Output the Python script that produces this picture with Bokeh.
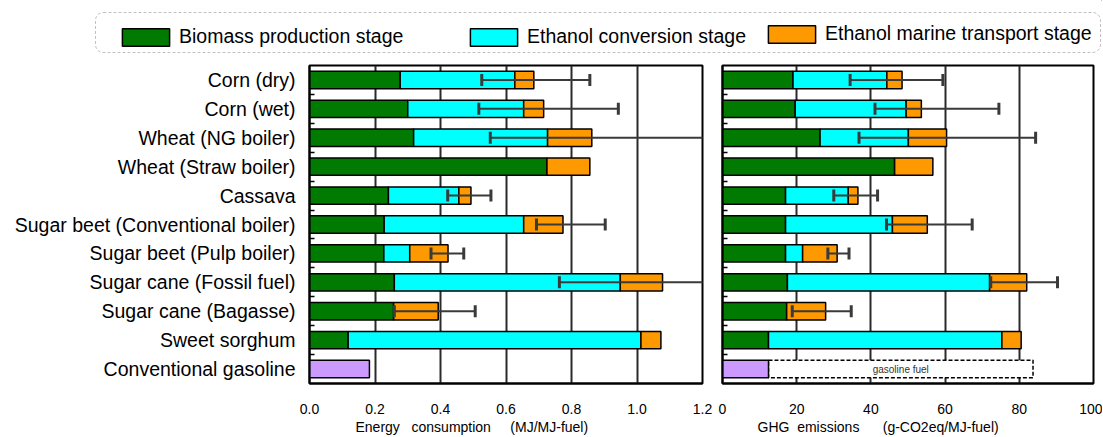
from bokeh.plotting import figure
from bokeh.models import (ColumnDataSource, Range1d, FixedTicker, Whisker, TeeHead,
                          Legend, LegendItem, BoxAnnotation, Title, NumeralTickFormatter)
from bokeh.layouts import column, row
from bokeh.embed import file_html
from bokeh.resources import INLINE
from bokeh.core.properties import value

# ---------------- data ----------------
categories = ["Corn (dry)", "Corn (wet)", "Wheat (NG boiler)", "Wheat (Straw boiler)", "Cassava",
              "Sugar beet (Conventional boiler)", "Sugar beet (Pulp boiler)",
              "Sugar cane (Fossil fuel)", "Sugar cane (Bagasse)", "Sweet sorghum",
              "Conventional gasoline"]
stages = ["Biomass production stage", "Ethanol conversion stage", "Ethanol marine transport stage"]

# Energy consumption (MJ/MJ-fuel) for the ten ethanol pathways
energy_biomass = [0.277, 0.300, 0.318, 0.725, 0.241, 0.228, 0.227, 0.259, 0.257, 0.118]
energy_conversion = [0.350, 0.354, 0.409, 0.0, 0.215, 0.426, 0.079, 0.690, 0.0, 0.894]
energy_transport = [0.058, 0.061, 0.135, 0.131, 0.037, 0.120, 0.117, 0.129, 0.136, 0.061]
energy_err_low = [0.526, 0.517, 0.552, None, 0.422, 0.693, 0.371, 0.763, 0.259, None]
energy_err_high = [0.856, 0.943, 1.214, None, 0.554, 0.903, 0.471, 1.253, 0.506, None]
energy_gasoline = 0.183

# GHG emissions (g-CO2eq/MJ-fuel)
ghg_biomass = [19.0, 19.6, 26.3, 46.4, 17.0, 17.0, 17.0, 17.5, 17.3, 12.4]
ghg_conversion = [25.3, 29.9, 23.8, 0.0, 16.9, 28.8, 4.6, 54.5, 0.0, 62.9]
ghg_transport = [4.1, 4.1, 10.3, 10.3, 2.6, 9.4, 9.3, 10.0, 10.5, 5.2]
ghg_err_low = [34.4, 41.1, 36.8, None, 30.0, 44.2, 28.4, 72.3, 18.8, None]
ghg_err_high = [59.4, 74.5, 84.4, None, 41.8, 67.3, 34.1, 90.3, 34.7, None]
ghg_gasoline = 12.4
ghg_gasoline_fuel = 71.3
gasoline_fuel_label = "gasoline fuel"

energy_ticks = [0.0, 0.2, 0.4, 0.6, 0.8, 1.0, 1.2]
ghg_ticks = [0, 20, 40, 60, 80, 100]
energy_title = "Energy\u00a0\u00a0 consumption\u00a0\u00a0\u00a0\u00a0 (MJ/MJ-fuel)"
ghg_title = "GHG\u00a0 emissions\u00a0\u00a0\u00a0\u00a0\u00a0 (g-CO2eq/MJ-fuel)"

# ---------------- style ----------------
FONT = "Liberation Sans"
GREEN, CYAN, ORANGE, PURPLE = "#007A00", "#00FFFF", "#FF9900", "#CC99FF"
STAGE_COLORS = [GREEN, CYAN, ORANGE]
NCAT = len(categories)
BAR_H = 0.6
ERR_COLOR = "#3a3a3a"


def ypos(i):
    return NCAT - 1 - i


def make_panel(width, bl, br, xmax, ticks, fmt, bio, conv, trans, lo, hi, gas,
               show_labels, title, title_offset):
    p = figure(width=width, height=379, x_range=Range1d(0, xmax),
               y_range=Range1d(-0.5, NCAT - 0.5), output_backend="svg",
               toolbar_location=None, min_border_left=bl, min_border_right=br,
               min_border_top=7, min_border_bottom=54)
    n = len(bio)
    src = ColumnDataSource(dict(y=[ypos(i) for i in range(n)], bio=bio, conv=conv, trans=trans))
    p.hbar_stack(["bio", "conv", "trans"], y="y", height=BAR_H, fill_color=STAGE_COLORS,
                 line_color="black", line_width=1.5, source=src)

    gy = ypos(categories.index("Conventional gasoline"))
    p.hbar(y=[gy], left=[0], right=[gas], height=BAR_H, fill_color=PURPLE,
           line_color="black", line_width=1.5)

    idx = [i for i in range(n) if lo[i] is not None]
    esrc = ColumnDataSource(dict(y=[ypos(i) for i in idx], lo=[lo[i] for i in idx],
                                 hi=[hi[i] for i in idx]))
    w = Whisker(base="y", lower="lo", upper="hi", source=esrc, dimension="width",
                line_color=ERR_COLOR, line_width=2,
                lower_head=TeeHead(size=12, line_color=ERR_COLOR, line_width=3),
                upper_head=TeeHead(size=12, line_color=ERR_COLOR, line_width=3))
    w.level = "overlay"
    p.add_layout(w)

    ax = p.xaxis[0]
    ax.ticker = FixedTicker(ticks=ticks)
    if fmt is not None:
        ax.formatter = fmt
    ax.major_tick_in = 0
    ax.major_tick_out = 0
    ax.minor_tick_in = 0
    ax.minor_tick_out = 0
    ax.major_label_standoff = 20
    ax.major_label_text_font = FONT
    ax.major_label_text_font_size = "14px"
    ax.major_label_text_color = "black"
    ax.axis_line_width = 2
    ax.axis_line_color = "black"

    ay = p.yaxis[0]
    minor = [i + 0.5 for i in range(NCAT - 1)]
    if show_labels:
        ay.ticker = FixedTicker(ticks=list(range(NCAT)), minor_ticks=minor)
        ay.major_label_overrides = {ypos(i): c for i, c in enumerate(categories)}
        ay.major_label_text_font = FONT
        ay.major_label_text_font_size = "19.5px"
        ay.major_label_text_color = "black"
        ay.major_label_standoff = 14
    else:
        ay.ticker = FixedTicker(ticks=[], minor_ticks=minor)
        ay.major_label_standoff = 0
    ay.major_tick_in = 0
    ay.major_tick_out = 0
    ay.minor_tick_in = 5
    ay.minor_tick_out = 0
    ay.minor_tick_line_width = 1.5
    ay.minor_tick_line_color = "black"
    ay.axis_line_width = 2
    ay.axis_line_color = "black"

    p.xgrid.grid_line_color = "#2a2a2a"
    p.xgrid.grid_line_width = 2
    p.ygrid.visible = False
    p.outline_line_color = "black"
    p.outline_line_width = 2
    p.background_fill_color = "white"
    p.border_fill_color = "white"

    t = Title(text=title, align="left", offset=title_offset, standoff=0,
              text_font=FONT, text_font_size="14px", text_font_style="normal",
              text_color="black")
    p.add_layout(t, "below")
    return p


p1 = make_panel(712, 309, 10, 1.2, energy_ticks, NumeralTickFormatter(format="0.0"),
                energy_biomass, energy_conversion, energy_transport,
                energy_err_low, energy_err_high, energy_gasoline, True, energy_title, 46)

p2 = make_panel(390, 10, 9, 100, ghg_ticks, None,
                ghg_biomass, ghg_conversion, ghg_transport,
                ghg_err_low, ghg_err_high, ghg_gasoline, False, ghg_title, 35)

# gasoline fuel (combustion) box on GHG panel
gy = ypos(categories.index("Conventional gasoline"))
box_r = p2.hbar(y=[gy], left=[ghg_gasoline], right=[ghg_gasoline + ghg_gasoline_fuel],
                height=BAR_H, fill_color="white", line_color="black", line_width=1.5,
                line_dash="4 2")
p2.renderers.remove(box_r)
p2.renderers.insert(0, box_r)
p2.text(x=[ghg_gasoline + ghg_gasoline_fuel / 2], y=[gy], text=[gasoline_fuel_label],
        text_font=value(FONT), text_font_size="10px", text_align="center",
        text_baseline="middle", text_color="#333333")

# ---------------- legend strip ----------------
LW, LH = 1102, 58
pl = figure(width=LW, height=LH, x_range=Range1d(0, LW), y_range=Range1d(0, LH),
            output_backend="svg", toolbar_location=None, min_border=0,
            x_axis_location=None, y_axis_location=None)
pl.xgrid.visible = False
pl.ygrid.visible = False
pl.outline_line_color = None

frame_box = BoxAnnotation(left=95, right=1100, bottom=6, top=46, fill_color=None,
                          line_color="#333333", line_width=1, line_dash="3 2")
if "border_radius" in BoxAnnotation.properties():
    frame_box.border_radius = 8
pl.add_layout(frame_box)

legend_pos = [(116, 10), (464, 10), (762, 13)]
for name, col, loc in zip(stages, STAGE_COLORS, legend_pos):
    r = pl.hbar(y=[5000], left=[5000], right=[5001], height=1, fill_color=col,
                line_color="black", line_width=1.5)
    leg = Legend(items=[LegendItem(label=name, renderers=[r])], location=loc,
                 orientation="horizontal", border_line_color=None, background_fill_alpha=0,
                 padding=0, margin=0, glyph_width=59, glyph_height=22, label_standoff=4,
                 label_text_font=FONT, label_text_font_size="19.5px", label_text_color="black")
    pl.add_layout(leg)

layout = column(pl, row(p1, p2))
open("out.html", "w").write(file_html(layout, INLINE))
